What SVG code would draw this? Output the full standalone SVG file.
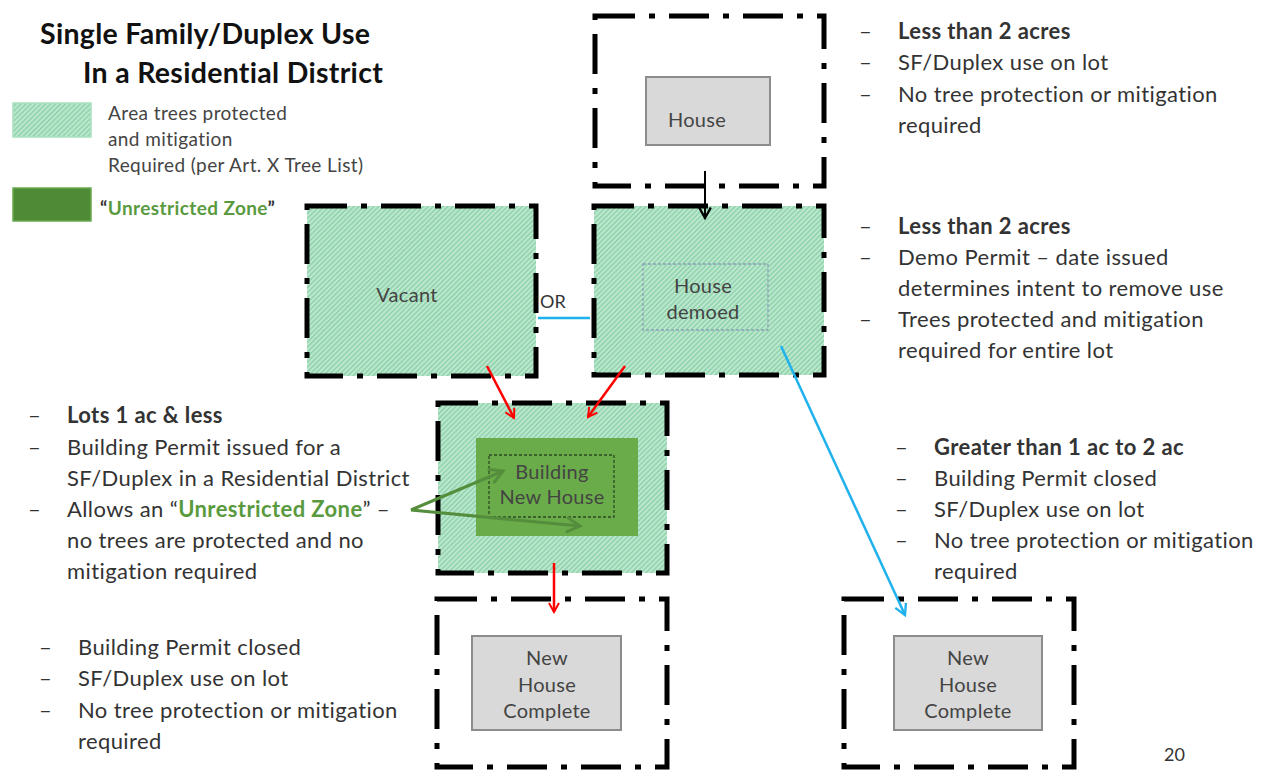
<svg xmlns="http://www.w3.org/2000/svg" width="1268" height="770" viewBox="0 0 1268 770">
  <defs>
    <pattern id="hatch" width="3.5" height="3.5" patternUnits="userSpaceOnUse" patternTransform="rotate(45)">
      <rect width="3.5" height="3.5" fill="#bde8cf"/>
      <rect width="1.5" height="3.5" fill="#8ed2ab"/>
    </pattern>
    <marker id="arrRed" viewBox="0 0 12 12" refX="10" refY="6" markerWidth="12" markerHeight="12" orient="auto" markerUnits="userSpaceOnUse">
      <path d="M1,1 L10,6 L1,11" fill="none" stroke="#ff0000" stroke-width="2"/>
    </marker>
    <marker id="arrBlue" viewBox="0 0 12 12" refX="10" refY="6" markerWidth="14" markerHeight="14" orient="auto" markerUnits="userSpaceOnUse">
      <path d="M1,1 L10,6 L1,11" fill="none" stroke="#1fb1ec" stroke-width="2"/>
    </marker>
    <marker id="arrBlack" viewBox="0 0 12 12" refX="10" refY="6" markerWidth="14" markerHeight="14" orient="auto" markerUnits="userSpaceOnUse">
      <path d="M1,1 L10,6 L1,11" fill="none" stroke="#000" stroke-width="2"/>
    </marker>
    <marker id="arrGreen" viewBox="0 0 12 12" refX="10" refY="6" markerWidth="18" markerHeight="18" orient="auto" markerUnits="userSpaceOnUse">
      <path d="M1,1 L10,6 L1,11" fill="none" stroke="#548e3c" stroke-width="2"/>
    </marker>
  </defs>
  <style>
    text { font-family: Lato, "Liberation Sans", sans-serif; fill: #333; }
    .lot { fill: none; stroke: #000; stroke-width: 5; stroke-dasharray: 40 14 6 14; }
    .lotfill { fill: url(#hatch); }
    .body { font-size: 22px; letter-spacing: 0.4px; }
    .bold { font-weight: bold; }
    .title { font-size: 28.5px; font-weight: bold; fill: #111; letter-spacing: 0.3px; }
    .legend { font-size: 19px; letter-spacing: 0.4px; fill: #444; }
    .node { font-size: 20px; letter-spacing: 0.3px; text-anchor: middle; fill: #444; }
    .house { fill: #d9d9d9; stroke: #8c8c8c; stroke-width: 2; }
  </style>

  <!-- title -->
  <text class="title" x="40" y="44">Single Family/Duplex Use</text>
  <text class="title" x="83" y="83">In a Residential District</text>

  <!-- legend -->
  <g id="legend">
    <rect x="13" y="103" width="78" height="34" class="lotfill" stroke="#a9e0c0" stroke-width="1.5"/>
    <text class="legend" x="108" y="120">Area trees protected</text>
    <text class="legend" x="108" y="146">and mitigation</text>
    <text class="legend" x="108" y="172">Required (per Art. X Tree List)</text>
    <rect x="13" y="188" width="78" height="33" fill="#4f8a36" stroke="#6aa94f" stroke-width="1.5"/>
    <text class="legend" x="100" y="215" font-weight="bold" letter-spacing="0"><tspan fill="#333">“</tspan><tspan fill="#5a9a3f">Unrestricted Zone</tspan><tspan fill="#333">”</tspan></text>
  </g>

  <!-- existing house -->
  <g id="node-house">
    <rect x="595" y="16" width="229" height="170" class="lot"/>
    <rect x="646" y="77" width="124" height="68" class="house" stroke-width="1"/>
    <text class="node" x="697" y="127">House</text>
  </g>

  <!-- vacant lot -->
  <g id="node-vacant">
    <rect x="307" y="206" width="229" height="170" class="lotfill"/>
    <rect x="307" y="206" width="229" height="170" class="lot"/>
    <text class="node" x="407" y="302">Vacant</text>
  </g>

  <!-- house demolished -->
  <g id="node-demoed">
    <rect x="594" y="206" width="230" height="169" class="lotfill"/>
    <rect x="594" y="206" width="230" height="169" class="lot"/>
    <rect x="643" y="264" width="125" height="66" fill="none" stroke="#8aa0b8" stroke-width="1.3" stroke-dasharray="3 2"/>
    <text class="node" x="703" y="293">House</text>
    <text class="node" x="703" y="319">demoed</text>
  </g>

  <!-- building the new house -->
  <g id="node-building">
    <rect x="438" y="403" width="229" height="170" class="lotfill"/>
    <rect x="438" y="403" width="229" height="170" class="lot"/>
    <rect x="476" y="438" width="162" height="98" fill="#6aac49"/>
    <rect x="489" y="455" width="125" height="62" fill="none" stroke="#2d4a22" stroke-width="1.3" stroke-dasharray="3 2"/>
    <text class="node" x="552" y="479" font-size="17" fill="#2a3a22">Building</text>
    <text class="node" x="552" y="504" font-size="17" fill="#2a3a22">New House</text>
  </g>

  <!-- completed house, lots 1 ac and less -->
  <g id="node-complete-small">
    <rect x="437" y="599" width="230" height="168" class="lot"/>
    <rect x="472" y="636" width="149" height="94" class="house" stroke-width="2.5"/>
    <text class="node" x="547" y="665">New</text>
    <text class="node" x="547" y="692">House</text>
    <text class="node" x="547" y="718">Complete</text>
  </g>

  <!-- completed house, greater than 1 ac -->
  <g id="node-complete-large">
    <rect x="844" y="599" width="230" height="168" class="lot"/>
    <rect x="894" y="636" width="148" height="94" class="house" stroke-width="2.5"/>
    <text class="node" x="968" y="665">New</text>
    <text class="node" x="968" y="692">House</text>
    <text class="node" x="968" y="718">Complete</text>
  </g>

  <!-- connectors -->
  <g id="connectors" fill="none">
    <line x1="705" y1="171" x2="705" y2="218" stroke="#000" stroke-width="2" marker-end="url(#arrBlack)"/>
    <line x1="538" y1="318" x2="590" y2="318" stroke="#1fb1ec" stroke-width="2.5"/>
    <text x="540" y="308" font-size="18" fill="#444" stroke="none">OR</text>
    <line x1="487" y1="366" x2="514" y2="418" stroke="#ff0000" stroke-width="2.5" marker-end="url(#arrRed)"/>
    <line x1="625" y1="366" x2="588" y2="417" stroke="#ff0000" stroke-width="2.5" marker-end="url(#arrRed)"/>
    <line x1="554" y1="563" x2="554" y2="612" stroke="#ff0000" stroke-width="2.5" marker-end="url(#arrRed)"/>
    <line x1="781" y1="346" x2="905" y2="615" stroke="#1fb1ec" stroke-width="2.5" marker-end="url(#arrBlue)"/>
    <line x1="411" y1="510" x2="503" y2="471" stroke="#548e3c" stroke-width="3" marker-end="url(#arrGreen)"/>
    <line x1="411" y1="510" x2="580" y2="526" stroke="#548e3c" stroke-width="3" marker-end="url(#arrGreen)"/>
  </g>

  <!-- notes: existing house -->
  <g id="notes-house" class="body">
    <text x="859" y="39">–</text><text x="898" y="39" class="bold" fill="#111">Less than 2 acres</text>
    <text x="859" y="70">–</text><text x="898" y="70">SF/Duplex use on lot</text>
    <text x="859" y="102">–</text><text x="898" y="102">No tree protection or mitigation</text>
    <text x="898" y="133">required</text>
  </g>

  <!-- notes: demolished -->
  <g id="notes-demoed" class="body">
    <text x="859" y="234">–</text><text x="898" y="234" class="bold" fill="#111">Less than 2 acres</text>
    <text x="859" y="265">–</text><text x="898" y="265">Demo Permit – date issued</text>
    <text x="898" y="296">determines intent to remove use</text>
    <text x="859" y="327">–</text><text x="898" y="327">Trees protected and mitigation</text>
    <text x="898" y="358">required for entire lot</text>
  </g>

  <!-- notes: lots 1 ac and less -->
  <g id="notes-small" class="body">
    <text x="28" y="423" fill="#ff1a1a">–</text><text x="67" y="423" class="bold" fill="#ff1a1a">Lots 1 ac &amp; less</text>
    <text x="28" y="455">–</text><text x="67" y="455">Building Permit issued for a</text>
    <text x="67" y="486">SF/Duplex in a Residential  District</text>
    <text x="28" y="517">–</text><text x="67" y="517">Allows an “<tspan fill="#5a9a3f" font-weight="bold">Unrestricted Zone</tspan>” –</text>
    <text x="67" y="548">no trees are protected and no</text>
    <text x="67" y="579">mitigation required</text>
  </g>

  <!-- notes: greater than 1 ac -->
  <g id="notes-large" class="body">
    <text x="895" y="455" fill="#1fb1ec">–</text><text x="934" y="455" class="bold" fill="#1fb1ec">Greater than 1 ac to 2 ac</text>
    <text x="895" y="486">–</text><text x="934" y="486">Building Permit closed</text>
    <text x="895" y="517">–</text><text x="934" y="517">SF/Duplex use on lot</text>
    <text x="895" y="548">–</text><text x="934" y="548">No tree protection or mitigation</text>
    <text x="934" y="579">required</text>
  </g>

  <!-- notes: completed -->
  <g id="notes-complete" class="body">
    <text x="39" y="655">–</text><text x="78" y="655">Building Permit closed</text>
    <text x="39" y="686">–</text><text x="78" y="686">SF/Duplex use on lot</text>
    <text x="39" y="718">–</text><text x="78" y="718">No tree protection or mitigation</text>
    <text x="78" y="749">required</text>
  </g>

  <text x="1164" y="761" font-size="18" fill="#999">20</text>
</svg>
